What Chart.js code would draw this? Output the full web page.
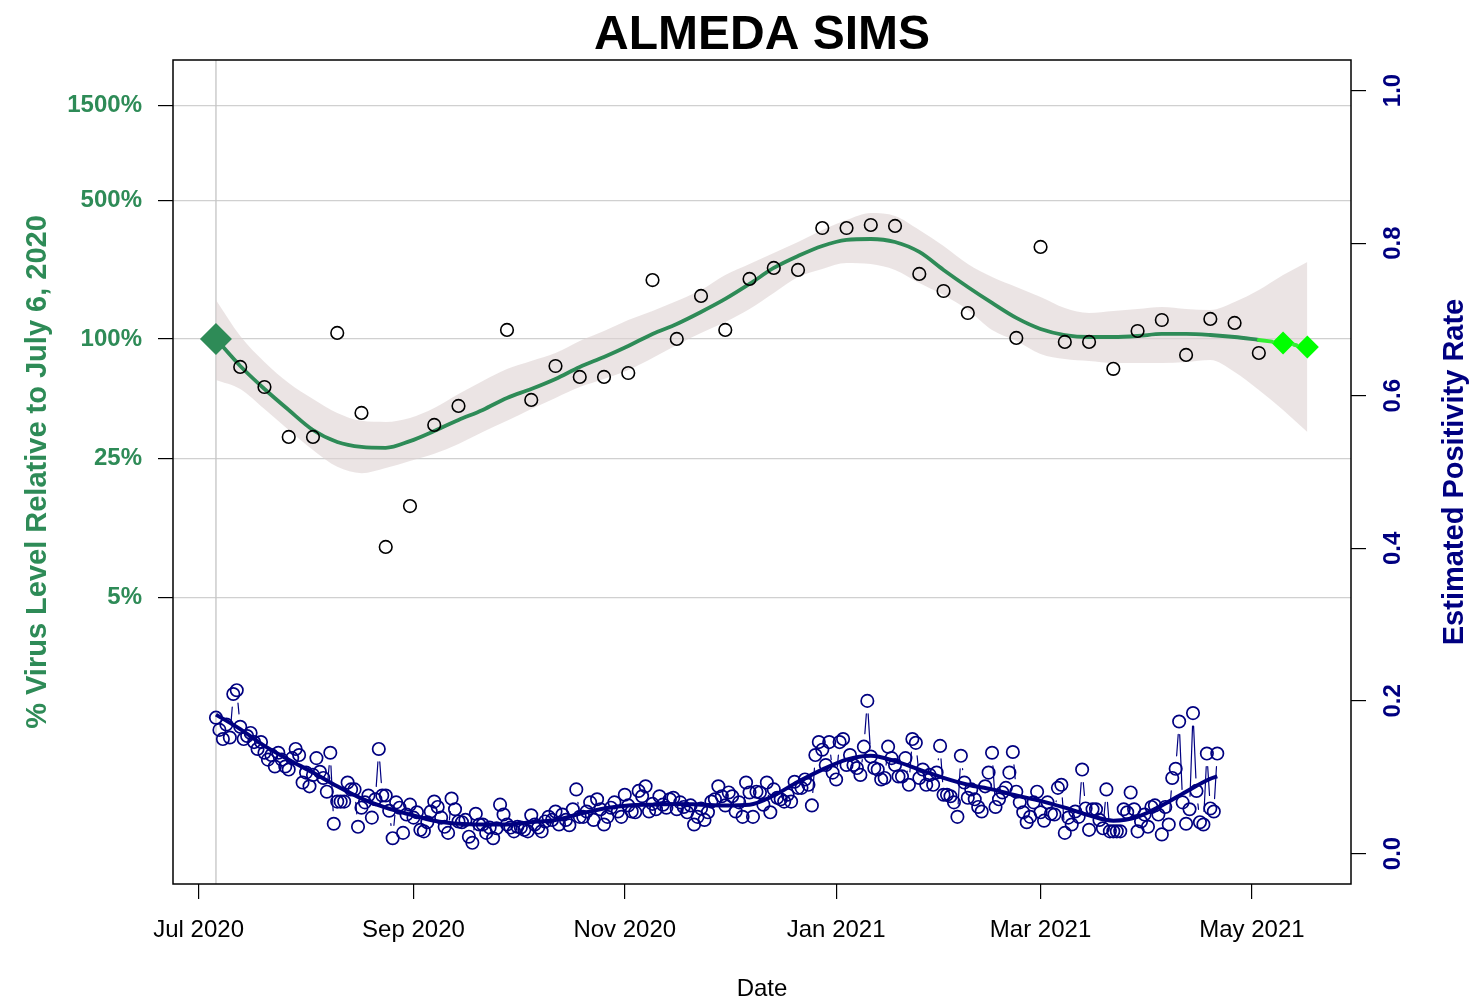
<!DOCTYPE html>
<html lang="de">
<head>
<meta charset="utf-8">
<title>ALMEDA SIMS</title>
<script src="https://cdn.jsdelivr.net/npm/chart.js@4.4.1/dist/chart.umd.min.js"></script>
<style>
  html, body { margin: 0; padding: 0; background: #fff; }
  canvas { display: block; }
</style>
</head>
<body>
<canvas id="chart" width="1474" height="1006"></canvas>
<script>
// Tag 0 = 6. Juli 2020 (Bezugstag)
const startDate = '2020-07-06'

// X-Achse
const xTickDates = ['2020-07-01', '2020-09-01', '2020-11-01', '2021-01-01', '2021-03-01', '2021-05-01']
const xTickLabels = ['Jul 2020', 'Sep 2020', 'Nov 2020', 'Jan 2021', 'Mar 2021', 'May 2021']

// Achsen-Ticks
const virusTicks = [5, 25, 100, 500, 1500]
const rateTicks = [0, 0.2, 0.4, 0.6, 0.8, 1.0]

// Virus-Level wöchentlich (Woche 0 = 6. Juli), in % relativ zum Bezugstag
const virusLevel = [100, 72.3, 57.3, 32.1, 32.1, 107.2, 42.4, 8.97, 14.4, 36.9,
  46.0, null, 111, 49.3, 73.1, 64.4, 64.4, 67.4, 198, 100,
  164.7, 111, 200.6, 227.8, 222.6, 362, 362, 375, 370.7, 212.5,
  174.4, 135.1, null, 101.2, 290.6, 96.6, 96.6, 70.7, 109.7, 124.6,
  83.1, 126.1, 120.4, 85.0]

// geglätteter Verlauf (Wochen 0-43)
const virusFit = [100, 73.1, 56.0, 43.9, 34.8, 30.3, 28.6, 28.3, 30.6, 34.4,
  39.1, 43.9, 50.5, 56.0, 62.9, 72.3, 81.2, 92.2, 106.0, 119.0,
  136.7, 159.0, 189.2, 227.8, 261.7, 293.9, 315.1, 318.8, 307.8, 274.2,
  222.6, 182.7, 151.8, 127.6, 112.3, 104.7, 102.3, 102.3, 103.5, 106.0,
  106.0, 104.7, 102.3, 98.8]

// Konfidenzband (Wochen 0-45)
const virusUpper = [157, 103.5, 76.6, 60.0, 49.9, 42.4, 38.7, 38.2, 40.0, 44.9,
  52.8, 61.5, 70.6, 77.5, 85.0, 97.7, 109.7, 124.6, 138.4, 155.4,
  176.5, 210.0, 238.6, 271.0, 307.9, 353.8, 397.4, 431.0, 416.3, 353.8,
  294.0, 238.6, 205.2, 182.7, 162.7, 143.2, 135.2, 138.4, 141.6, 144.9,
  141.6, 140.0, 153.6, 176.5, 210.0, 244.2]
const virusLower = [62.2, 56.0, 44.4, 34.8, 27.6, 22.7, 21.1, 22.4, 24.3, 26.4,
  29.6, 34.0, 38.7, 44.4, 50.5, 57.3, 62.9, 69.8, 80.2, 93.3,
  107.2, 121.8, 141.6, 170.4, 205.2, 225.2, 241.4, 238.6, 222.6, 191.4,
  166.5, 140.0, 111.0, 97.7, 84.1, 79.3, 77.5, 75.7, 75.7, 75.7,
  76.6, 78.4, 68.2, 55.4, 43.9, 34.0]

// Prognose (Wochen 44 und 45)
const forecastWeeks = [44, 45]
const virusForecast = [95.5, 91.1]

// Positivitätsrate täglich ab 6. Juli
const positivity = [
  0.178, 0.162, 0.150, 0.169, 0.152, 0.209, 0.214, 0.166, 0.150, 0.154,
  0.158, 0.146, 0.137, 0.146, 0.132, 0.123, 0.129, 0.114, 0.132, 0.123,
  0.114, 0.110, 0.125, 0.137, 0.129, 0.093, 0.106, 0.088, 0.103, 0.125,
  0.107, 0.099, 0.081, 0.132, 0.039, 0.068, 0.068, 0.068, 0.093, 0.084,
  0.084, 0.035, 0.060, 0.067, 0.076, 0.047, 0.071, 0.137, 0.076, 0.076,
  0.056, 0.020, 0.067, 0.060, 0.027, 0.051, 0.064, 0.047, 0.054, 0.031,
  0.029, 0.041, 0.055, 0.068, 0.061, 0.047, 0.035, 0.027, 0.072, 0.058,
  0.042, 0.041, 0.044, 0.022, 0.014, 0.052, 0.038, 0.038, 0.027, 0.034,
  0.020, 0.033, 0.064, 0.051, 0.038, 0.034, 0.029, 0.035, 0.034, 0.031,
  0.029, 0.050, 0.038, 0.034, 0.029, 0.042, 0.048, 0.044, 0.055, 0.038,
  0.051, 0.044, 0.037, 0.058, 0.084, 0.048, 0.048, 0.055, 0.067, 0.044,
  0.071, 0.058, 0.038, 0.048, 0.060, 0.067, 0.055, 0.048, 0.077, 0.063,
  0.055, 0.054, 0.082, 0.075, 0.088, 0.055, 0.065, 0.058, 0.075, 0.064,
  0.060, 0.071, 0.073, 0.058, 0.067, 0.061, 0.054, 0.063, 0.038, 0.048,
  0.059, 0.044, 0.054, 0.068, 0.071, 0.088, 0.075, 0.063, 0.080, 0.075,
  0.055, 0.067, 0.048, 0.093, 0.080, 0.048, 0.081, 0.080, 0.064, 0.093,
  0.054, 0.084, 0.073, 0.071, 0.068, 0.077, 0.068, 0.094, 0.086, 0.086,
  0.097, 0.090, 0.063, 0.129, 0.146, 0.136, 0.116, 0.146, 0.106, 0.097,
  0.146, 0.150, 0.116, 0.129, 0.116, 0.112, 0.103, 0.140, 0.200, 0.127,
  0.112, 0.110, 0.097, 0.099, 0.140, 0.125, 0.116, 0.101, 0.101, 0.125,
  0.090, 0.150, 0.145, 0.099, 0.110, 0.090, 0.103, 0.090, 0.106, 0.141,
  0.077, 0.077, 0.075, 0.067, 0.048, 0.128, 0.093, 0.073, 0.084, 0.071,
  0.061, 0.055, 0.088, 0.106, 0.132, 0.061, 0.071, 0.080, 0.086, 0.106,
  0.133, 0.081, 0.067, 0.054, 0.041, 0.048, 0.067, 0.081, 0.054, 0.043,
  0.067, 0.052, 0.051, 0.086, 0.090, 0.027, 0.047, 0.038, 0.055, 0.048,
  0.110, 0.059, 0.031, 0.058, 0.058, 0.044, 0.033, 0.084, 0.029, 0.029,
  0.029, 0.029, 0.058, 0.054, 0.080, 0.058, 0.029, 0.042, 0.051, 0.035,
  0.061, 0.063, 0.051, 0.025, 0.061, 0.038, 0.099, 0.111, 0.173, 0.067,
  0.039, 0.058, 0.184, 0.082, 0.041, 0.038, 0.131, 0.059, 0.055, 0.131
]

// geglättete Positivitätsrate, Stützstellen in Tagen
const positivityFitDays = [0, 7, 14, 21, 28, 35, 42, 49, 56, 63, 70, 77, 84, 91, 98,
  105, 112, 119, 126, 133, 140, 147, 154, 161, 168, 175, 182, 189, 196, 203,
  210, 217, 224, 231, 238, 245, 252, 259, 266, 273, 280, 287, 289]
const positivityFit = [0.182, 0.163, 0.141, 0.123, 0.106, 0.088, 0.072, 0.060, 0.051, 0.043,
  0.039, 0.038, 0.038, 0.041, 0.044, 0.052, 0.059, 0.063, 0.064, 0.065,
  0.064, 0.063, 0.064, 0.076, 0.094, 0.110, 0.123, 0.128, 0.121, 0.110,
  0.099, 0.090, 0.084, 0.076, 0.069, 0.060, 0.050, 0.043, 0.048, 0.063,
  0.081, 0.098, 0.101]

const seaGreen = '#2e8b57'
const navy = '#000080'
const brightGreen = '#00ff00'
const fontFamily = "'Liberation Sans', Arial, Helvetica, sans-serif"

// Hilfsfunktion: Datum -> Tage seit Bezugstag
function dayOf(dateStr) {
  return Math.round((Date.parse(dateStr) - Date.parse(startDate)) / 86400000)
}
const xTickDays = xTickDates.map(dayOf)

// Hilfsfunktion: Wochenwerte -> Punkte (x in Tagen)
function weekly(values) {
  return values.map((v, k) => ({ x: k * 7, y: v })).filter(p => p.y !== null)
}

// Prognose-Linie: letzter Trendwert + Prognosepunkte
const lastFitWeek = virusFit.length - 1
const forecastPoints = forecastWeeks.map((w, i) => ({ x: w * 7, y: virusForecast[i] }))
const forecastLine = [{ x: lastFitWeek * 7, y: virusFit[lastFitWeek] }].concat(forecastPoints)

// Linien zwischen Punkten mit Lücke um jeden Punkt (wie R type="b")
const gapLinePlugin = {
  id: 'gapLines',
  afterDatasetDraw(chart, args) {
    const ds = chart.data.datasets[args.index]
    if (!ds.gapLine) return
    const pts = args.meta.data
    const gap = ds.gapLine
    const ctx = chart.ctx
    ctx.save()
    ctx.strokeStyle = ds.gapColor
    ctx.lineWidth = ds.gapWidth
    ctx.lineCap = 'round'
    ctx.beginPath()
    for (let i = 1; i < pts.length; i++) {
      const a = pts[i - 1]
      const b = pts[i]
      const dx = b.x - a.x
      const dy = b.y - a.y
      const len = Math.hypot(dx, dy)
      if (len <= ds.gapStart + gap) continue
      const ux = dx / len
      const uy = dy / len
      const g0 = i === 1 ? ds.gapStart : gap
      ctx.moveTo(a.x + ux * g0, a.y + uy * g0)
      ctx.lineTo(b.x - ux * gap, b.y - uy * gap)
    }
    ctx.stroke()
    ctx.restore()
  }
}

// Rahmen, Bezugslinie, Titel und rechte Achsenbeschriftung
const framePlugin = {
  id: 'frame',
  beforeDatasetsDraw(chart) {
    const { ctx, chartArea: a, scales } = chart
    const x0 = scales.x.getPixelForValue(0)
    ctx.save()
    ctx.strokeStyle = '#c4c4c4'
    ctx.lineWidth = 1.3
    ctx.beginPath()
    ctx.moveTo(x0, a.top)
    ctx.lineTo(x0, a.bottom)
    ctx.stroke()
    ctx.restore()
  },
  afterDraw(chart) {
    const { ctx, chartArea: a, scales } = chart
    ctx.save()
    ctx.strokeStyle = '#000'
    ctx.lineWidth = 1.5
    ctx.strokeRect(a.left, a.top, a.width, a.height)

    // Titel
    ctx.fillStyle = '#000'
    ctx.font = `bold 48px ${fontFamily}`
    ctx.textAlign = 'center'
    ctx.textBaseline = 'alphabetic'
    ctx.fillText('ALMEDA SIMS', (a.left + a.right) / 2, 49)

    // rechte Achse: gedrehte Beschriftung
    const yR = scales.yR
    ctx.fillStyle = navy
    ctx.textBaseline = 'middle'
    ctx.font = `bold 24px ${fontFamily}`
    yR.ticks.forEach(t => {
      ctx.save()
      ctx.translate(a.right + 42, yR.getPixelForValue(t.value))
      ctx.rotate(-Math.PI / 2)
      ctx.fillText(t.value.toFixed(1), 0, 0)
      ctx.restore()
    })
    ctx.font = `bold 29px ${fontFamily}`
    ctx.translate(a.right + 104, (a.top + a.bottom) / 2)
    ctx.rotate(-Math.PI / 2)
    ctx.fillText('Estimated Positivity Rate', 0, 0)
    ctx.restore()
  }
}

const transparent = 'rgba(0,0,0,0)'

new Chart(document.getElementById('chart'), {
  type: 'line',
  data: {
    datasets: [
      {
        label: 'Band oben',
        data: weekly(virusUpper),
        yAxisID: 'yL',
        borderColor: transparent,
        borderWidth: 0,
        pointRadius: 0,
        fill: false,
        cubicInterpolationMode: 'monotone',
        order: 10
      },
      {
        label: 'Band unten',
        data: weekly(virusLower),
        yAxisID: 'yL',
        borderColor: transparent,
        borderWidth: 0,
        pointRadius: 0,
        fill: '-1',
        backgroundColor: 'rgba(222, 210, 210, 0.6)',
        cubicInterpolationMode: 'monotone',
        order: 10
      },
      {
        label: 'Virus Trend',
        data: weekly(virusFit),
        yAxisID: 'yL',
        borderColor: seaGreen,
        borderWidth: 3.8,
        pointRadius: 0,
        cubicInterpolationMode: 'monotone',
        order: 8
      },
      {
        label: 'Virus Level',
        data: weekly(virusLevel).slice(1),
        yAxisID: 'yL',
        showLine: false,
        pointRadius: 6.3,
        pointBorderWidth: 1.6,
        pointBorderColor: '#000',
        pointBackgroundColor: transparent,
        order: 7
      },
      {
        label: 'Bezugstag',
        data: weekly(virusLevel).slice(0, 1),
        yAxisID: 'yL',
        showLine: false,
        pointStyle: 'rectRot',
        pointRadius: 16,
        pointBorderWidth: 0,
        pointBorderColor: seaGreen,
        pointBackgroundColor: seaGreen,
        order: 5
      },
      {
        label: 'Prognose',
        data: forecastLine,
        yAxisID: 'yL',
        showLine: false,
        gapLine: 11,
        gapStart: 0,
        gapColor: '#33ee33',
        gapWidth: 4,
        pointStyle: 'rectRot',
        pointRadius: ctx => (ctx.dataIndex === 0 ? 0 : 11.5),
        pointBorderWidth: 0,
        pointBorderColor: brightGreen,
        pointBackgroundColor: brightGreen,
        order: 5
      },
      {
        label: 'Positivität',
        data: positivity.map((v, d) => ({ x: d, y: v })),
        yAxisID: 'yR',
        showLine: false,
        gapLine: 13,
        gapStart: 13,
        gapColor: navy,
        gapWidth: 1.2,
        pointRadius: 6.2,
        pointBorderWidth: 1.7,
        pointBorderColor: navy,
        pointBackgroundColor: transparent,
        order: 4
      },
      {
        label: 'Positivität Trend',
        data: positivityFitDays.map((d, i) => ({ x: d, y: positivityFit[i] })),
        yAxisID: 'yR',
        borderColor: navy,
        borderWidth: 4,
        pointRadius: 0,
        cubicInterpolationMode: 'monotone',
        order: 3
      }
    ]
  },
  options: {
    responsive: false,
    animation: false,
    events: [],
    layout: { padding: { top: 60, left: 0, right: 0, bottom: 0 } },
    plugins: {
      legend: { display: false },
      tooltip: { enabled: false },
      title: { display: false }
    },
    scales: {
      x: {
        type: 'linear',
        min: -12.4,
        max: 327.6,
        bounds: 'data',
        afterBuildTicks: s => { s.ticks = xTickDays.map(v => ({ value: v })) },
        afterFit: s => { s.height = 122 },
        grid: { drawOnChartArea: false, tickLength: 15, tickColor: '#000', lineWidth: 1.2 },
        border: { display: false },
        ticks: {
          padding: 17,
          color: '#000',
          autoSkip: false,
          maxRotation: 0,
          font: { size: 24, family: fontFamily },
          callback: v => xTickLabels[xTickDays.indexOf(v)]
        },
        title: {
          display: true,
          text: 'Date',
          color: '#000',
          font: { size: 24, family: fontFamily },
          padding: { top: 0, bottom: 2 }
        }
      },
      yL: {
        type: 'logarithmic',
        position: 'left',
        min: 0.18,
        max: 2540,
        bounds: 'data',
        afterBuildTicks: s => { s.ticks = virusTicks.map(v => ({ value: v })) },
        afterFit: s => { s.width = 173 },
        grid: { color: '#d0d0d0', tickColor: '#000', tickLength: 15, lineWidth: 1.2 },
        border: { display: false },
        ticks: {
          padding: 16,
          color: seaGreen,
          font: { size: 24, weight: 'bold', family: fontFamily },
          callback: v => v + '%'
        },
        title: {
          display: true,
          text: '% Virus Level Relative to July 6, 2020',
          color: seaGreen,
          font: { size: 29, weight: 'bold', family: fontFamily },
          padding: { top: 21, bottom: 0 }
        }
      },
      yR: {
        type: 'linear',
        position: 'right',
        min: -0.04,
        max: 1.04,
        bounds: 'data',
        afterBuildTicks: s => { s.ticks = rateTicks.map(v => ({ value: v })) },
        afterFit: s => { s.width = 123 },
        grid: { drawOnChartArea: false, tickColor: '#000', tickLength: 15, lineWidth: 1.2 },
        border: { display: false },
        ticks: { display: false }
      }
    }
  },
  plugins: [gapLinePlugin, framePlugin]
})
</script>
</body>
</html>
